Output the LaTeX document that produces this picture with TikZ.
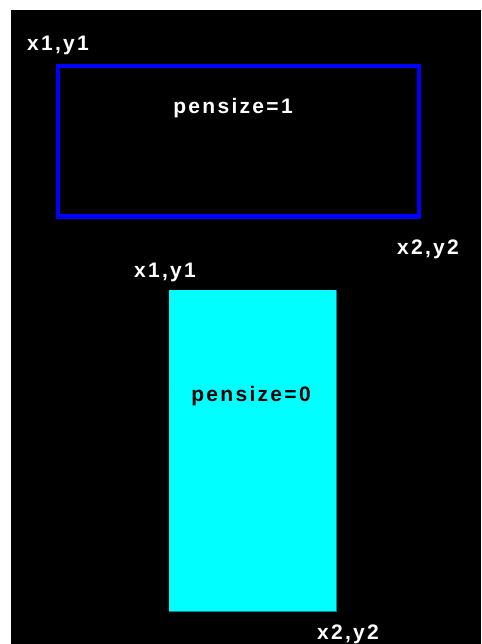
\documentclass[tikz,border=0pt]{standalone}
\usepackage{fontspec}
\setmainfont{Liberation Sans}[LetterSpace=11]
\usepackage{tikz}
\usetikzlibrary{positioning}
\definecolor{penblue}{RGB}{0,0,255}
\definecolor{brushcyan}{RGB}{0,255,255}
\definecolor{cyanedge}{RGB}{0,140,140}
\tikzset{
    lbl/.style={font=\bfseries\fontsize{21}{21}\selectfont, inner sep=0pt, text=white},
    lbldark/.style={lbl, text=black}
}

\begin{document}
\begin{tikzpicture}[x=1pt, y=-1pt]
    \useasboundingbox (0,0) rectangle (481,644);
    % Frame and canvas
    \fill[white] (0,0) rectangle (481,644);
    \fill[black] (11,10) rectangle (481,644);
    % Rectangle with pensize=1
    \draw[penblue, line width=4.5pt] (58,66) rectangle (419,216.5);
    \node[lbl] (tlone) at (58,45) {x1,y1};
    \node[lbl] (brone) at (428,249) {x2,y2};
    \node[lbl] (penone) at (233,108) {pensize=1};
    % Filled rectangle with pensize=0
    \fill[brushcyan] (169,290) rectangle (336,611);
    \draw[cyanedge, line width=0.8pt] (336,290) -- (336,611) -- (169,611);
    \node[lbl] (tltwo) at (165,272) {x1,y1};
    \node[lbl] (brtwo) at (348,634) {x2,y2};
    \node[lbldark] (penzero) at (251,396) {pensize=0};
\end{tikzpicture}
\end{document}
